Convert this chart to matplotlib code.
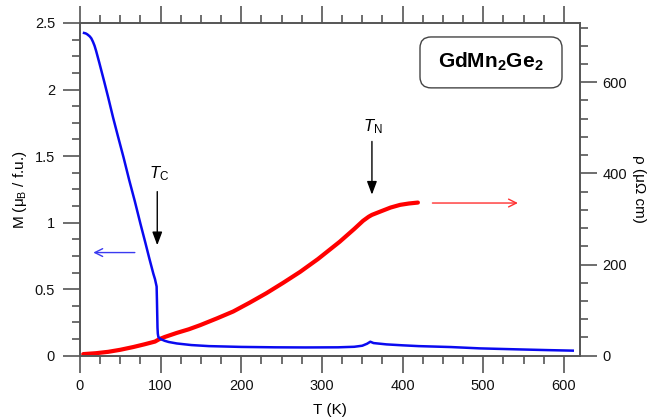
import numpy as np
import matplotlib
matplotlib.use("Agg")
import matplotlib.pyplot as plt
from matplotlib.ticker import MultipleLocator
from matplotlib.patches import FancyBboxPatch

plt.rcParams['font.family'] = ['Liberation Sans', 'DejaVu Sans']
plt.rcParams['mathtext.fontset'] = 'custom'
plt.rcParams['mathtext.rm'] = 'Liberation Sans'
plt.rcParams['mathtext.it'] = 'Liberation Sans:italic'
plt.rcParams['mathtext.bf'] = 'Liberation Sans:bold'

# magnetization M(T), mu_B per formula unit
T_M = [5, 7, 9, 12, 14, 16, 18, 20, 22, 24, 27, 30, 35, 41, 47, 54, 61, 68, 75, 81,
       86, 91, 93, 95, 95.4, 95.8, 96.1, 96.5, 97.2, 100, 105, 110, 120, 138, 160, 200,
       242, 280, 320, 340, 350, 356, 360, 364, 380, 400, 420, 460, 496, 540, 580, 611]
M = [2.425, 2.422, 2.415, 2.40, 2.385, 2.36, 2.33, 2.29, 2.245, 2.20, 2.13, 2.06, 1.94,
     1.79, 1.65, 1.49, 1.32, 1.16, 0.99, 0.85, 0.73, 0.615, 0.575, 0.52, 0.42, 0.30,
     0.21, 0.165, 0.14, 0.125, 0.112, 0.103, 0.092, 0.08, 0.072, 0.066, 0.063, 0.062,
     0.063, 0.067, 0.075, 0.09, 0.105, 0.095, 0.085, 0.078, 0.072, 0.065, 0.055, 0.048,
     0.042, 0.038]

# resistivity rho(T), micro-ohm cm
T_rho = [4, 20, 35, 50, 66, 80, 93, 98, 105, 120, 135, 149, 170, 190, 210, 231, 252,
         273, 295, 322, 340, 351, 358, 362, 372, 385, 397, 408, 419]
rho = [3.5, 5.5, 8.5, 13, 19, 25, 31, 36, 41, 50, 58, 67, 82, 97, 116, 137, 160,
       184, 212, 250, 278, 296, 305, 309, 316, 325, 331, 334, 336]

fig = plt.figure(figsize=(6.47, 4.19), dpi=100)
ax = fig.add_axes([80 / 647, 1 - 355.7 / 419, 500 / 647, 332.7 / 419])
ax2 = ax.twinx()

grey = '#555555'
ax2.plot(T_rho, rho, color='#ff0000', lw=3.0, solid_capstyle='round')
ax.plot(T_M, M, color='#0a0af0', lw=1.8)

ax.set_zorder(ax2.get_zorder() + 1)
ax.patch.set_visible(False)

ax.set_xlim(0, 620)
ax.set_ylim(0, 2.5)
ax2.set_ylim(0, 730)

ax.xaxis.set_major_locator(MultipleLocator(100))
ax.xaxis.set_minor_locator(MultipleLocator(25))
ax.yaxis.set_major_locator(MultipleLocator(0.5))
ax.yaxis.set_minor_locator(MultipleLocator(0.125))
ax2.yaxis.set_major_locator(MultipleLocator(200))
ax2.yaxis.set_minor_locator(MultipleLocator(40))
ax.yaxis.set_major_formatter(plt.FuncFormatter(lambda v, p: f"{v:g}"))

for a in (ax, ax2):
    for s in a.spines.values():
        s.set_color(grey)
        s.set_linewidth(1.2)
ax.tick_params(which='both', direction='out', top=True, right=False,
               color=grey, width=1.2, labelsize=10.5, labelcolor='#111111')
ax.tick_params(which='major', length=12)
ax.tick_params(which='minor', length=6)
ax.tick_params(axis='x', pad=5)
ax.tick_params(axis='y', pad=6)
ax2.tick_params(which='both', direction='out', color=grey, width=1.2,
                labelsize=10.5, labelcolor='#111111', pad=4)
ax2.tick_params(which='major', length=12)
ax2.tick_params(which='minor', length=6)

ax.set_xlabel('T (K)', fontsize=11, labelpad=7)
ax.set_ylabel('M (μ$_\\mathrm{B}$ / f.u.)', fontsize=11, labelpad=4)
ax2.set_ylabel('ρ (μΩ cm)', fontsize=11, rotation=270, labelpad=14)

# transition markers
dart = dict(arrowstyle='-|>,head_length=0.8,head_width=0.3', color='black', lw=1.0,
            mutation_scale=10, shrinkA=0, shrinkB=0)
ax.annotate('', xy=(95.8, 0.83), xytext=(95.8, 1.233), arrowprops=dart)
ax.text(98, 1.366, r'$T_\mathrm{C}$', fontsize=12, ha='center', va='center')
ax.annotate('', xy=(362, 1.21), xytext=(362, 1.61), arrowprops=dart)
ax.text(363, 1.72, r'$T_\mathrm{N}$', fontsize=12, ha='center', va='center')

# axis pointers
ax.annotate('', xy=(16.5, 0.775), xytext=(68, 0.775),
            arrowprops=dict(arrowstyle='->', color='#3a3af0', lw=1.0,
                            mutation_scale=14, shrinkA=0, shrinkB=0))
ax2.annotate('', xy=(543, 335), xytext=(437, 335),
             arrowprops=dict(arrowstyle='->', color='#ff3030', lw=1.0,
                             mutation_scale=14, shrinkA=0, shrinkB=0))

# compound label
aspect = 500 / 332.7
box = FancyBboxPatch((0.68, 0.805), 0.284, 0.153, transform=ax.transAxes,
                     boxstyle='round,pad=0,rounding_size=0.022', mutation_aspect=aspect,
                     fc='white', ec='#444444', lw=1.0, zorder=5)
ax.add_patch(box)
ax.text(0.822, 0.883, r'$\mathbf{GdMn_2Ge_2}$', transform=ax.transAxes,
        fontsize=15, ha='center', va='center', zorder=6)

fig.savefig('out.png', dpi=100)
